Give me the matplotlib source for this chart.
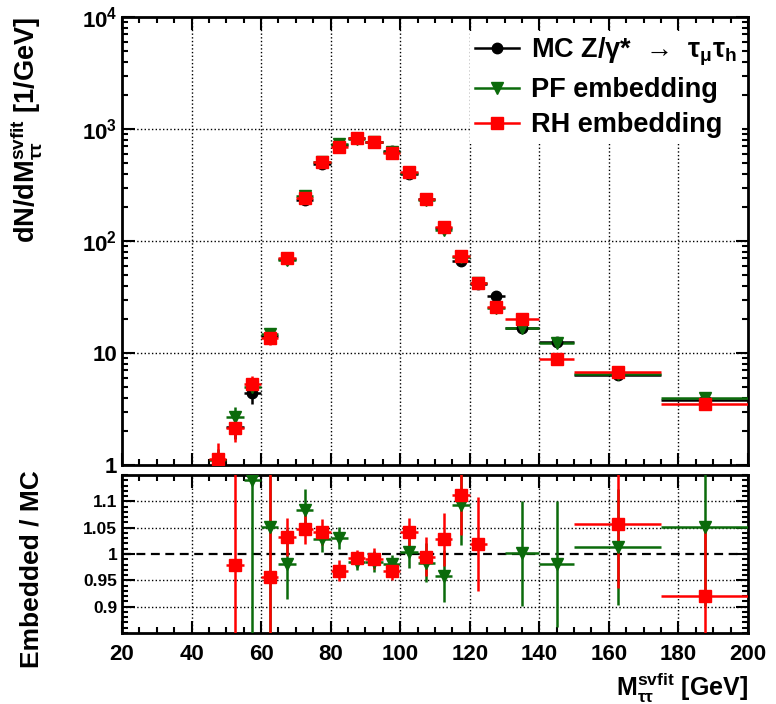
# svfit di-tau mass: mc vs pf / rh embedding, with ratio panel

import numpy as np
import matplotlib
matplotlib.use('Agg')
import matplotlib.pyplot as plt
from matplotlib.lines import Line2D
from matplotlib.ticker import MultipleLocator, FixedLocator, NullFormatter, LogLocator

plt.rcParams['font.family'] = ['Liberation Sans', 'DejaVu Sans']
plt.rcParams['font.weight'] = 'bold'
plt.rcParams['axes.labelweight'] = 'bold'
plt.rcParams['mathtext.fontset'] = 'custom'
plt.rcParams['mathtext.rm'] = 'Liberation Sans'
plt.rcParams['mathtext.bf'] = 'Liberation Sans:bold'
plt.rcParams['mathtext.it'] = 'Liberation Sans'

nan = np.nan

# bins (GeV)
bin_edges = [45, 50, 55, 60, 65, 70, 75, 80, 85, 90, 95, 100, 105, 110, 115, 120,
             125, 130, 140, 150, 175, 200]

# dN/dM per bin
mc = [nan, 2.19, 4.37, 14.1, 69, 232, 488, 718, 834, 770, 631, 400, 238, 130,
      66.3, 41.5, 32, 16.8, 12.5, 6.35, 3.78]
pf = [1.1, 2.67, 5.0, 14.8, 67.7, 251, 502, 740, 821, 758, 619, 402, 234, 125,
      72.5, 42, 25.4, 16.8, 12.3, 6.44, 3.98]
rh = [1.13, 2.14, 5.27, 13.5, 71.2, 243, 509, 695, 828, 763, 610, 417, 237, 134,
      73.7, 42.3, 26, 20.3, 8.9, 6.7, 3.48]
mc_err = [nan, 0.5, 0.85, 1.5, 2.5, 5, 8, 10, 11, 10, 9, 7, 5, 4, 3, 2.3, 2, 1.2, 1.0, 0.5, 0.35]
pf_err = [0.3, 0.6, 0.9, 1.6, 3, 5, 8, 10, 11, 10, 9, 7, 5, 4, 3.2, 2.4, 2, 1.2, 1.0, 0.5, 0.35]
rh_err = [0.45, 0.55, 0.9, 1.6, 3, 5, 8, 10, 11, 10, 9, 7, 5, 4, 3.2, 2.4, 2, 1.2, 1.0, 0.5, 0.35]

# embedded / mc
ratio_pf = [nan, nan, 1.14, 1.052, 0.981, 1.084, 1.028, 1.031, 0.984, 0.985, 0.981,
            1.004, 0.983, 0.958, 1.093, nan, nan, 1.001, 0.981, 1.014, 1.052]
ratio_pf_err = [nan, nan, 0.35, 0.30, 0.067, 0.04, 0.025, 0.021, 0.015, 0.02, 0.017,
                0.03, 0.037, 0.049, 0.076, nan, nan, 0.10, 0.12, 0.11, 0.15]
ratio_rh = [nan, 0.979, nan, 0.956, 1.032, 1.048, 1.042, 0.968, 0.993, 0.991, 0.967,
            1.041, 0.995, 1.028, 1.112, 1.019, nan, nan, nan, 1.056, 0.921]
ratio_rh_err = [nan, 0.30, nan, 0.30, 0.036, 0.03, 0.025, 0.02, 0.015, 0.02, 0.017,
                0.028, 0.037, 0.05, 0.076, 0.09, nan, nan, nan, 0.12, 0.14]

edges = np.array(bin_edges, dtype=float)
centers = 0.5 * (edges[1:] + edges[:-1])
halfw = 0.5 * (edges[1:] - edges[:-1])

green = '#0b6b0b'
red = '#ff0000'

fig = plt.figure(figsize=(7.76, 7.04), dpi=100)
ax = fig.add_axes([0.1572, 0.3395, 0.8067, 0.6364])
axr = fig.add_axes([0.1572, 0.1009, 0.8067, 0.2244], sharex=ax)

styles = [(mc, mc_err, 'k', 'o', 7.5),
          (pf, pf_err, green, 'v', 8),
          (rh, rh_err, red, 's', 8.5)]
for vals, errs, col, mk, ms in styles:
    ax.errorbar(centers, vals, xerr=halfw, yerr=errs, fmt=mk, color=col, ms=ms,
                elinewidth=1.8, capsize=0, zorder=4)

for vals, errs, col, mk, ms in [(ratio_pf, ratio_pf_err, green, 'v', 8),
                                (ratio_rh, ratio_rh_err, red, 's', 8.5)]:
    axr.errorbar(centers, vals, xerr=halfw, yerr=errs, fmt=mk, color=col, ms=ms,
                 elinewidth=1.8, capsize=0, zorder=4)
axr.axhline(1.0, color='k', lw=1.6, dashes=(4, 2.5), zorder=3)

ax.set_yscale('log')
ax.set_ylim(1, 1e4)
ax.set_xlim(20, 200)
axr.set_ylim(0.85, 1.15)

# grid drawn by hand so the legend box can hide it but not the ticks
for a, ys in [(ax, [10, 100, 1000]), (axr, [0.9, 0.95, 1.05, 1.1])]:
    for xv in range(40, 200, 20):
        a.axvline(xv, color='k', ls=':', lw=1.0, zorder=1)
    for yv in ys:
        a.axhline(yv, color='k', ls=':', lw=1.0, zorder=1)

ax.yaxis.set_major_locator(FixedLocator([1, 10, 100, 1000, 10000]))
ax.yaxis.set_minor_locator(LogLocator(base=10, subs=np.arange(2, 10)))
ax.yaxis.set_minor_formatter(NullFormatter())
ax.set_yticklabels(['1', '10', r'$\mathbf{10^{2}}$', r'$\mathbf{10^{3}}$', r'$\mathbf{10^{4}}$'])

for a in (ax, axr):
    a.xaxis.set_major_locator(MultipleLocator(20))
    a.xaxis.set_minor_locator(MultipleLocator(5))
    a.tick_params(which='both', direction='in', top=True, right=True, width=1.5)
    a.tick_params(which='major', length=9)
    a.tick_params(which='minor', length=4.5)
    for s in a.spines.values():
        s.set_linewidth(2)
ax.tick_params(axis='both', which='major', labelsize=16)
ax.tick_params(labelbottom=False)
axr.tick_params(axis='x', which='major', labelsize=16, pad=8)
axr.tick_params(axis='y', which='major', labelsize=12.5)

axr.yaxis.set_major_locator(FixedLocator([0.9, 0.95, 1.0, 1.05, 1.1]))
axr.yaxis.set_minor_locator(MultipleLocator(0.01))
axr.set_yticklabels(['0.9', '0.95', '1', '1.05', '1.1'])

ax.set_ylabel(r'dN/dM$_{\tau\tau}^{\mathbf{svfit}}$ [1/GeV]', fontsize=19.5, loc='top')
ax.yaxis.set_label_coords(-0.125, 1.0)
axr.set_ylabel('Embedded / MC', fontsize=19, loc='top')
axr.yaxis.set_label_coords(-0.125, 1.03)
axr.set_xlabel(r'M$_{\tau\tau}^{\mathbf{svfit}}$ [GeV]', fontsize=18, loc='right', labelpad=4)

handles = [Line2D([], [], color='k', marker='o', ms=7.5, lw=1.8),
           Line2D([], [], color=green, marker='v', ms=8, lw=1.8),
           Line2D([], [], color=red, marker='s', ms=8.5, lw=1.8)]
labels = [r'MC Z/$\gamma$*  →  $\tau_{\mu}\tau_{\mathbf{h}}$',
          'PF embedding', 'RH embedding']
leg = ax.legend(handles, labels, loc='upper right', bbox_to_anchor=(1.012, 1.0),
                fontsize=19.5, frameon=True, facecolor='white', edgecolor='none',
                framealpha=1, handlelength=1.6, handletextpad=0.45, labelspacing=0.33,
                borderpad=0.2, fancybox=False)
leg.set_zorder(2)

plt.savefig('out.png', dpi=100)
